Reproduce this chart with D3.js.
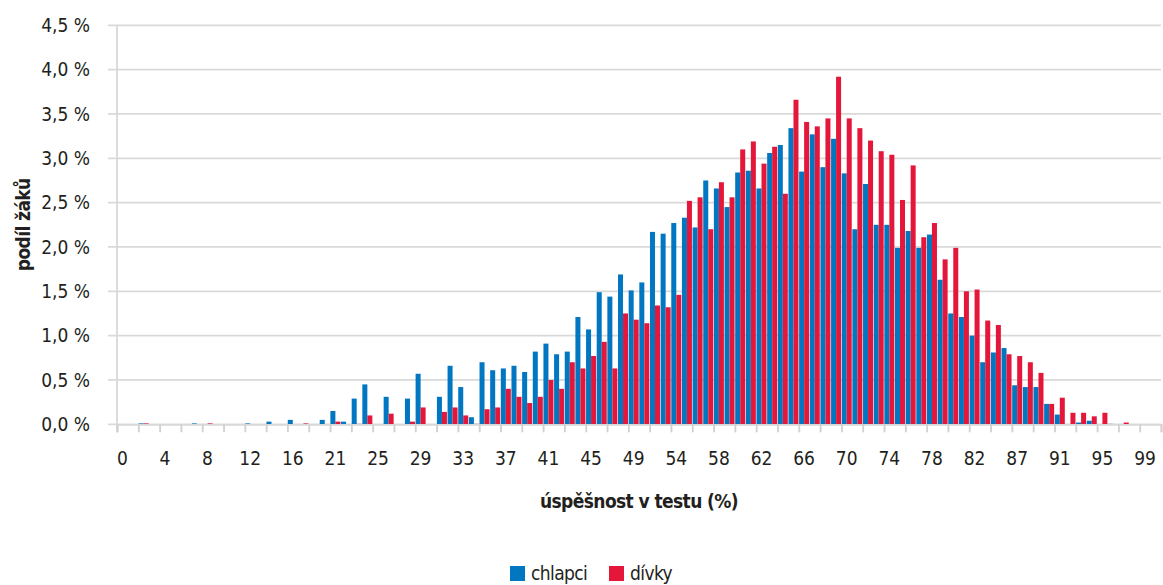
<!DOCTYPE html>
<html>
<head>
<meta charset="utf-8">
<script src="https://cdn.jsdelivr.net/npm/d3@7"></script>
<style>
	body { margin: 0; background: #fff; }
	svg text { font-family: "Liberation Sans Narrow", "DejaVu Sans Condensed", "Roboto", sans-serif; fill: #231f20; }
</style>
</head>
<body>
<div id="chart"></div>
<script>
// test score (%) of each category
let categories = [0,1,2,3,4,5,6,7,8,9,10,11,12,13,14,15,16,18,19,20,
	21,22,23,24,25,26,27,28,29,30,31,32,33,34,35,36,37,38,39,40,
	41,42,43,44,45,46,47,48,49,51,52,53,54,55,56,57,58,59,60,61,
	62,63,64,65,66,67,68,69,70,71,72,73,74,75,76,77,78,79,80,81,
	82,84,85,86,87,88,89,90,91,92,93,94,95,96,97,98,99,100];

let tickLabels = [0,4,8,12,16,21,25,29,33,37,41,45,49,54,58,62,66,70,74,78,82,87,91,95,99];

let yTicks = [0,0.5,1,1.5,2,2.5,3,3.5,4,4.5];

// share of pupils (%)
let chlapci = [0,0,0.01,0,0,0,0,0.01,0,0,
	0,0,0.01,0,0.03,0,0.05,0,0,0.05,
	0.15,0.03,0.29,0.45,0,0.31,0,0.29,0.57,0,
	0.31,0.66,0.42,0.08,0.70,0.61,0.63,0.66,0.59,0.82,
	0.91,0.79,0.82,1.21,1.07,1.49,1.44,1.69,1.51,1.60,
	2.17,2.15,2.27,2.33,2.22,2.75,2.66,2.45,2.84,2.86,
	2.66,3.06,3.15,3.34,2.85,3.27,2.90,3.22,2.83,2.20,
	2.71,2.25,2.25,1.99,2.18,1.99,2.14,1.63,1.25,1.21,
	1.00,0.70,0.81,0.86,0.44,0.42,0.42,0.23,0.11,0,
	0.02,0.04,0,0.005,0,0,0,0];

let divky = [0,0,0.01,0,0,0,0,0,0.01,0,
	0,0,0,0,0,0,0,0.01,0,0,
	0.03,0,0.005,0.10,0,0.12,0,0.03,0.19,0,
	0.14,0.19,0.10,0.005,0.17,0.19,0.40,0.31,0.24,0.31,
	0.50,0.40,0.70,0.63,0.77,0.93,0.63,1.25,1.18,1.14,
	1.34,1.32,1.46,2.52,2.56,2.20,2.73,2.56,3.10,3.19,
	2.94,3.13,2.60,3.66,3.41,3.36,3.45,3.92,3.45,3.34,
	3.20,3.08,3.04,2.53,2.92,2.11,2.27,1.86,1.99,1.50,
	1.52,1.17,1.12,0.79,0.77,0.70,0.58,0.23,0.30,0.13,
	0.13,0.09,0.13,0,0.02,0,0,0];

let seriesNames = ["chlapci", "dívky"];
let colors = ["#0077c0", "#e4173b"];

function drawChart(location) {
	let width = 1163;
	let height = 585;
	let left = 117, right = 1161, top = 25.3, bottom = 424.3;

	let svg = d3.select(location)
		.append("svg")
		.attr("width", width)
		.attr("height", height);

	let x = d3.scaleBand()
		.domain(categories)
		.range([left, right])
		.paddingInner(0.06)
		.paddingOuter(0.03);

	// position of category boundaries, for tick marks
	let xEdge = d3.scaleLinear()
		.domain([0, categories.length])
		.range([left, right]);

	let xSeries = d3.scaleBand()
		.domain(seriesNames)
		.range([0, x.bandwidth()]);

	let y = d3.scaleLinear()
		.domain([0, 4.5])
		.range([bottom, top]);

	// gridlines
	svg.append("g")
		.selectAll("line")
		.data(yTicks)
		.join("line")
		.attr("x1", left - 9)
		.attr("x2", right)
		.attr("y1", d => y(d))
		.attr("y2", d => y(d))
		.attr("stroke", "#d9d9d9")
		.attr("stroke-width", 1.8);

	// y axis
	let yAxis = svg.append("g")
		.attr("transform", `translate(${left},0)`)
		.call(d3.axisLeft(y)
			.tickValues(yTicks)
			.tickSize(0)
			.tickPadding(27)
			.tickFormat(d => d.toFixed(1).replace(".", ",") + " %"));
	yAxis.select(".domain").remove();
	yAxis.selectAll("text").attr("font-size", 19);

	svg.append("line")
		.attr("x1", left).attr("x2", left)
		.attr("y1", top).attr("y2", bottom + 8)
		.attr("stroke", "#d9d9d9")
		.attr("stroke-width", 1.8);

	// bars
	let series = [chlapci, divky];
	series.forEach((values, s) => {
		svg.append("g")
			.attr("fill", colors[s])
			.selectAll("rect")
			.data(values)
			.join("rect")
			.attr("x", (d, i) => x(categories[i]) + xSeries(seriesNames[s]))
			.attr("width", xSeries.bandwidth())
			.attr("y", d => y(d))
			.attr("height", d => bottom - y(d));
	});

	// x axis tick marks between categories
	let xTicks = svg.append("g")
		.attr("transform", `translate(0,${bottom})`)
		.call(d3.axisBottom(xEdge)
			.tickValues(d3.range(0, categories.length + 1, 2))
			.tickSize(8)
			.tickFormat(""));
	xTicks.selectAll("line").attr("stroke", "#d0d0d0").attr("stroke-width", 1.8);
	xTicks.select(".domain").attr("stroke", "#d9d9d9").attr("stroke-width", 1.8);

	// x axis labels
	let xAxis = svg.append("g")
		.attr("transform", `translate(0,${bottom})`)
		.call(d3.axisBottom(x)
			.tickValues(tickLabels)
			.tickSize(0)
			.tickPadding(27));
	xAxis.select(".domain").remove();
	xAxis.selectAll("text").attr("font-size", 19);

	// axis titles
	svg.append("text")
		.attr("x", (left + right) / 2)
		.attr("y", 508)
		.attr("text-anchor", "middle")
		.attr("font-size", 19)
		.attr("letter-spacing", -0.6)
		.attr("font-weight", "bold")
		.text("úspěšnost v testu (%)");

	svg.append("text")
		.attr("transform", `translate(30,${(top + bottom) / 2}) rotate(-90)`)
		.attr("text-anchor", "middle")
		.attr("font-size", 19)
		.attr("letter-spacing", -0.6)
		.attr("font-weight", "bold")
		.text("podíl žáků");

	// legend
	let legendX = [510, 609];
	seriesNames.forEach((name, s) => {
		svg.append("rect")
			.attr("x", legendX[s])
			.attr("y", 566)
			.attr("width", 15)
			.attr("height", 15)
			.attr("fill", colors[s]);
		svg.append("text")
			.attr("x", legendX[s] + 21)
			.attr("y", 580)
			.attr("font-size", 19)
			.attr("letter-spacing", -0.6)
			.text(name);
	});
}

drawChart("#chart");
</script>
</body>
</html>
